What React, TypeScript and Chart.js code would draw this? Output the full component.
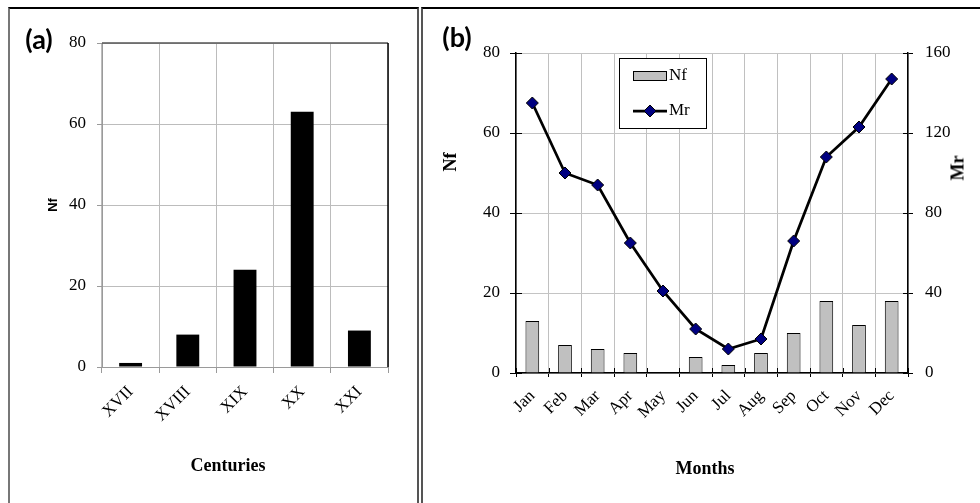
import React, { useEffect, useRef } from 'react';
import { Chart, registerables } from 'chart.js';

Chart.register(...registerables);

// ---- Data: panel (a) ----
const centuries = ['XVII', 'XVIII', 'XIX', 'XX', 'XXI'];
const nfByCentury = [1, 8, 24, 63, 9];

// ---- Data: panel (b) ----
const months = ['Jan', 'Feb', 'Mar', 'Apr', 'May', 'Jun', 'Jul', 'Aug', 'Sep', 'Oct', 'Nov', 'Dec'];
const nfByMonth = [13, 7, 6, 5, 0, 4, 2, 5, 10, 18, 12, 18];
const mrByMonth = [135, 100, 94, 65, 41, 22, 12, 17, 66, 108, 123, 147];

const SERIF = "'Liberation Serif', 'Times New Roman', serif";
const SANS = "'Liberation Sans', Arial, sans-serif";
const LABEL_FONT = "Lato, 'Open Sans', sans-serif";

const frameA = {
  id: 'frameA',
  afterDraw(chart: any) {
    const { ctx, chartArea: a } = chart;
    ctx.save();
    ctx.strokeStyle = '#555';
    ctx.lineWidth = 1.5;
    ctx.beginPath();
    ctx.moveTo(a.left, a.top);
    ctx.lineTo(a.right, a.top);
    ctx.stroke();
    ctx.strokeStyle = '#000';
    ctx.beginPath();
    ctx.moveTo(a.right, a.top);
    ctx.lineTo(a.right, a.bottom);
    ctx.stroke();
    ctx.restore();
  },
};

const innerTicksB = {
  id: 'innerTicksB',
  beforeDatasetsDraw(chart: any) {
    const { ctx, chartArea: a, scales } = chart;
    ctx.save();
    ctx.strokeStyle = '#000';
    ctx.lineWidth = 1;
    const y = scales.y;
    y.ticks.forEach((_t: any, i: number) => {
      const py = Math.round(y.getPixelForTick(i)) + 0.5;
      ctx.beginPath();
      ctx.moveTo(a.left, py);
      ctx.lineTo(a.left + 6, py);
      ctx.stroke();
    });
    const y1 = scales.y1;
    y1.ticks.forEach((_t: any, i: number) => {
      const py = Math.round(y1.getPixelForTick(i)) + 0.5;
      ctx.beginPath();
      ctx.moveTo(a.right - 5, py);
      ctx.lineTo(a.right, py);
      ctx.stroke();
    });
    const n = months.length;
    const w = (a.right - a.left) / n;
    for (let i = 0; i <= n; i++) {
      const px = Math.round(a.left + i * w) + 0.5;
      ctx.beginPath();
      ctx.moveTo(px, a.bottom - 5);
      ctx.lineTo(px, a.bottom);
      ctx.stroke();
    }
    ctx.restore();
  },
};

const legendB = {
  id: 'legendB',
  afterDraw(chart: any) {
    const { ctx } = chart;
    const bx = 197, by = 58, bw = 87, bh = 70;
    ctx.save();
    ctx.fillStyle = '#fff';
    ctx.fillRect(bx, by, bw, bh);
    ctx.strokeStyle = '#000';
    ctx.lineWidth = 1;
    ctx.strokeRect(bx + 0.5, by + 0.5, bw, bh);
    // Nf swatch
    ctx.fillStyle = '#c0c0c0';
    ctx.fillRect(211, 71, 33, 9);
    ctx.strokeRect(211.5, 71.5, 33, 9);
    // Mr line + diamond
    ctx.lineWidth = 2.75;
    ctx.beginPath();
    ctx.moveTo(211, 111);
    ctx.lineTo(245, 111);
    ctx.stroke();
    ctx.fillStyle = '#000080';
    ctx.lineWidth = 1;
    ctx.beginPath();
    ctx.moveTo(228, 105);
    ctx.lineTo(234, 111);
    ctx.lineTo(228, 117);
    ctx.lineTo(222, 111);
    ctx.closePath();
    ctx.fill();
    ctx.stroke();
    // texts
    ctx.fillStyle = '#000';
    ctx.font = `17px ${SERIF}`;
    ctx.textAlign = 'left';
    ctx.textBaseline = 'middle';
    ctx.fillText('Nf', 247, 76);
    ctx.fillText('Mr', 247, 111);
    ctx.restore();
  },
};

const tickFont = { family: SERIF, size: 17 };

export default function App() {
  const refA = useRef<HTMLCanvasElement | null>(null);
  const refB = useRef<HTMLCanvasElement | null>(null);

  useEffect(() => {
    if (!refA.current || !refB.current) return;
    const chartA = new Chart(refA.current, {
      type: 'bar',
      data: {
        labels: centuries,
        datasets: [
          {
            label: 'Nf',
            data: nfByCentury,
            backgroundColor: '#000',
            borderWidth: 0,
            barPercentage: 0.4,
            categoryPercentage: 1,
          },
        ],
      },
      options: {
        animation: false,
        responsive: true,
        maintainAspectRatio: false,
        layout: { padding: { left: 0, top: 43, right: 30, bottom: 0 } },
        plugins: { legend: { display: false }, tooltip: { enabled: false } },
        scales: {
          x: {
            grid: { offset: true, color: '#bcbcbc', tickColor: '#9a9a9a', tickLength: 6 },
            border: { color: '#9a9a9a' },
            ticks: { font: tickFont, color: '#000', minRotation: 45, maxRotation: 45, padding: 9, autoSkip: false },
            afterFit: (s: any) => {
              s.height = 136;
            },
          },
          y: {
            min: 0,
            max: 80,
            ticks: { stepSize: 20, font: tickFont, color: '#000', padding: 11 },
            grid: { color: '#bcbcbc', tickColor: '#9a9a9a', tickLength: 5 },
            border: { color: '#9a9a9a' },
            afterFit: (s: any) => {
              s.width = 102;
            },
          },
        },
      } as any,
      plugins: [frameA],
    });

    const chartB = new Chart(refB.current, {
      type: 'bar',
      data: {
        labels: months,
        datasets: [
          {
            type: 'line',
            label: 'Mr',
            data: mrByMonth,
            yAxisID: 'y1',
            borderColor: '#000',
            borderWidth: 2.75,
            pointStyle: 'rectRot',
            pointRadius: 6,
            pointBackgroundColor: '#000080',
            pointBorderColor: '#000',
            pointBorderWidth: 1,
            tension: 0,
            order: 1,
          } as any,
          {
            type: 'bar',
            label: 'Nf',
            data: nfByMonth,
            yAxisID: 'y',
            backgroundColor: '#c0c0c0',
            borderColor: '#000',
            borderWidth: 1,
            barPercentage: 0.42,
            categoryPercentage: 1,
            order: 2,
          } as any,
        ],
      },
      options: {
        animation: false,
        responsive: true,
        maintainAspectRatio: false,
        layout: { padding: { left: 0, top: 53, right: 0, bottom: 0 } },
        plugins: { legend: { display: false }, tooltip: { enabled: false } },
        scales: {
          x: {
            grid: { offset: true, color: '#c0c0c0', tickColor: '#000', tickLength: 4 },
            border: { color: '#000', width: 1.5 },
            ticks: { font: tickFont, color: '#000', minRotation: 45, maxRotation: 45, padding: 9, autoSkip: false },
            afterFit: (s: any) => {
              s.height = 130;
            },
          },
          y: {
            position: 'left',
            min: 0,
            max: 80,
            ticks: { stepSize: 20, font: tickFont, color: '#000', padding: 10 },
            grid: { color: '#c4c4c4', tickColor: '#000', tickLength: 6 },
            border: { color: '#000', width: 1.5 },
            afterFit: (s: any) => {
              s.width = 94;
            },
          },
          y1: {
            position: 'right',
            min: 0,
            max: 160,
            ticks: { stepSize: 40, font: tickFont, color: '#000', padding: 12 },
            grid: { drawOnChartArea: false, tickColor: '#000', tickLength: 5 },
            border: { color: '#000', width: 1.5 },
            afterFit: (s: any) => {
              s.width = 72;
            },
          },
        },
      } as any,
      plugins: [innerTicksB, legendB],
    });

    return () => {
      chartA.destroy();
      chartB.destroy();
    };
  }, []);

  const rot = (cx: number, cy: number, text: string, font: string) => (
    <div
      style={{
        position: 'absolute',
        left: cx,
        top: cy,
        transform: 'translate(-50%, -50%) rotate(-90deg)',
        whiteSpace: 'nowrap',
        lineHeight: 1,
        font,
        color: '#000',
      }}
    >
      {text}
    </div>
  );

  const centered = (cx: number, cy: number, text: string, font: string) => (
    <div
      style={{
        position: 'absolute',
        left: cx,
        top: cy,
        transform: 'translate(-50%, -50%)',
        whiteSpace: 'nowrap',
        lineHeight: 1,
        font,
        color: '#000',
      }}
    >
      {text}
    </div>
  );

  return (
    <div
      style={{
        position: 'fixed',
        left: 0,
        top: 0,
        width: 980,
        height: 503,
        background: '#fff',
        overflow: 'hidden',
      }}
    >
      {/* panel frames */}
      <div
        style={{
          position: 'absolute',
          left: 8,
          top: 7,
          width: 411,
          height: 600,
          boxSizing: 'border-box',
          borderTop: '2px solid #000',
          borderLeft: '2px solid #777',
          borderRight: '2px solid #555',
        }}
      />
      <div
        style={{
          position: 'absolute',
          left: 421,
          top: 7,
          width: 600,
          height: 600,
          boxSizing: 'border-box',
          borderTop: '2px solid #000',
          borderLeft: '2px solid #555',
        }}
      />
      <div style={{ position: 'absolute', left: 0, top: 0, width: 418, height: 503 }}>
        <canvas ref={refA} />
      </div>
      <div style={{ position: 'absolute', left: 422, top: 0, width: 558, height: 503 }}>
        <canvas ref={refB} />
      </div>

      {/* labels */}
      {centered(39, 38, '(a)', `bold 27px ${LABEL_FONT}`)}
      {rot(52, 205, 'Nf', `bold 13px ${SANS}`)}
      {centered(228, 465, 'Centuries', `bold 18px ${SERIF}`)}

      {centered(457, 36, '(b)', `bold 27px ${LABEL_FONT}`)}
      {rot(450, 162, 'Nf', `bold 18px ${SERIF}`)}
      {rot(958, 168, 'Mr', `bold 18px ${SERIF}`)}
      {centered(705, 468, 'Months', `bold 18px ${SERIF}`)}
    </div>
  );
}
